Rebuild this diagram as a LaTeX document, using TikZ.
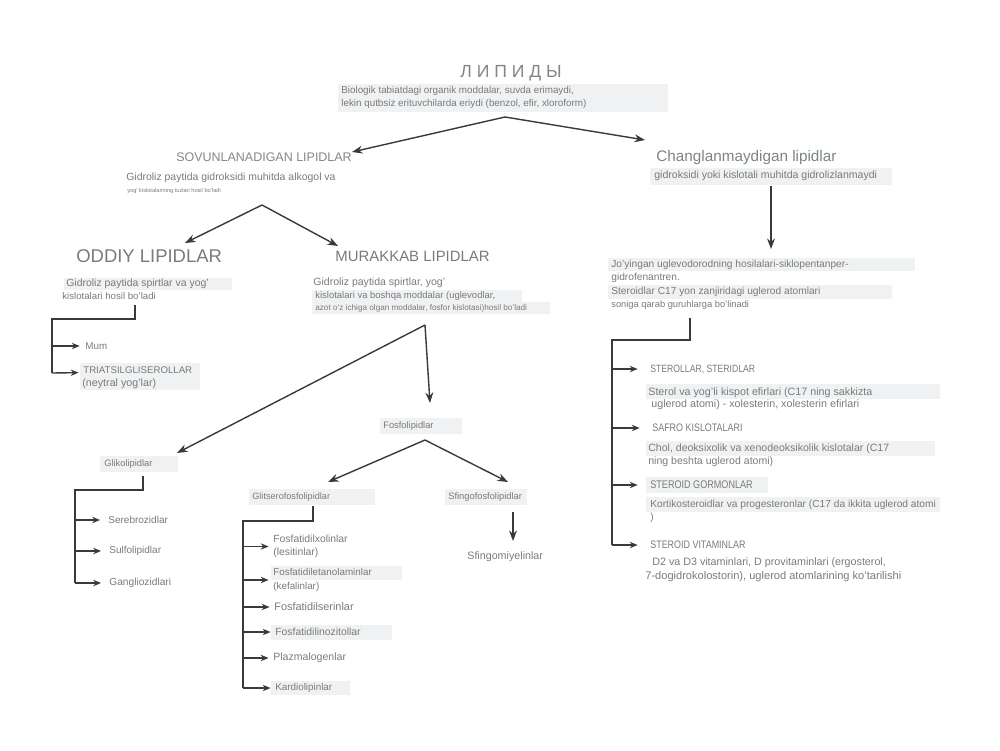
\documentclass[tikz,border=0pt]{standalone}
\usepackage{fontspec}
\setmainfont{Liberation Sans}
\newfontfamily\nar[FakeStretch=0.82]{Liberation Sans}
\usetikzlibrary{arrows.meta}
\definecolor{tg}{HTML}{7A7A7A}
\definecolor{hg}{HTML}{858585}
\definecolor{cg}{HTML}{7B8585}
\definecolor{lc}{HTML}{3A3A3A}
\definecolor{bgc}{HTML}{F0F1F2}
\newcommand\myfs[2]{\fontsize{#1pt}{#2pt}\selectfont}
\tikzset{
  txt/.style={anchor=west, inner sep=0pt, text=tg, align=left},
  ln/.style={draw=lc, line width=0.8pt},
  arr/.style={ln, -{Stealth[length=6pt,width=4.5pt]}},
  sarr/.style={ln, -{Stealth[length=4.5pt,width=3.6pt]}},
  bgbox/.style={fill=bgc},
}
\begin{document}
\begin{tikzpicture}[x=0.2mm,y=-0.2mm]
\useasboundingbox (0,0) rectangle (1000,750);
% light background strips
\fill[bgbox] (338,84) rectangle (668,112);
\fill[bgbox] (650,168) rectangle (892,185);
\fill[bgbox] (64,278) rectangle (232,290);
\fill[bgbox] (312,290) rectangle (522,302);
\fill[bgbox] (312,302) rectangle (550,314);
\fill[bgbox] (608,258) rectangle (915,271);
\fill[bgbox] (608,285) rectangle (892,299);
\fill[bgbox] (80,363) rectangle (200,390);
\fill[bgbox] (380,418) rectangle (462,434);
\fill[bgbox] (100,456) rectangle (178,472);
\fill[bgbox] (249,489) rectangle (375,505);
\fill[bgbox] (445,489) rectangle (527,505);
\fill[bgbox] (271,566) rectangle (402,580);
\fill[bgbox] (271,625) rectangle (392,640);
\fill[bgbox] (271,681) rectangle (350,695);
\fill[bgbox] (646,384) rectangle (940,399);
\fill[bgbox] (646,441) rectangle (935,456);
\fill[bgbox] (646,477) rectangle (768,493);
\fill[bgbox] (646,497) rectangle (940,512);

% ---------- top ----------
\node[txt, anchor=center, font=\myfs{10}{12}, text=hg] (lip) at (511,73) {Л И П И Д Ы};
\node[txt, font=\myfs{5.6}{7.4}] (sub) at (341,97) {Biologik tabiatdagi organik moddalar, suvda erimaydi,\\lekin qutbsiz erituvchilarda eriydi (benzol, efir, xloroform)};
\coordinate (tf) at (505,117);
\coordinate (tsov) at (352,152);
\coordinate (tch) at (645,140);
\draw[arr] (tf) -- (tsov);
\draw[arr] (tf) -- (tch);

% ---------- sovunlanadigan ----------
\node[txt, font=\myfs{7.1}{8}, text=hg] (sov) at (176,157) {SOVUNLANADIGAN LIPIDLAR};
\node[txt, font=\myfs{5.95}{7}] (sovd) at (126,178) {Gidroliz paytida gidroksidi muhitda alkogol va};
\node[txt, font=\myfs{3.2}{3.8}] (sovd2) at (127,191) {yog' kislotalarining tuzlari hosil bo'ladi};
\coordinate (sf) at (262,205);
\coordinate (todd) at (185,243);
\coordinate (tmur) at (338,246);
\draw[arr] (sf) -- (todd);
\draw[arr] (sf) -- (tmur);

% ---------- oddiy ----------
\node[txt, font=\myfs{10.5}{12}] (odd) at (76,256) {ODDIY LIPIDLAR};
\node[txt, font=\myfs{5.95}{7}] (odd1) at (66,284) {Gidroliz paytida spirtlar va yog'};
\node[txt, font=\myfs{5.5}{7}] (odd2) at (62,296) {kislotalari hosil bo'ladi};
\node[txt, font=\myfs{5.6}{7}] (mum) at (85,346) {Mum};
\node[txt, font=\myfs{5.5}{7}] (tri) at (83,370) {TRIATSILGLISEROLLAR};
\node[txt, font=\myfs{6.1}{7}] (tri2) at (82,384) {(neytral yog'lar)};
\coordinate (ob) at (135,305);
\coordinate (otr) at (52,319);
\draw[ln] (ob) |- (otr) -- (52,373);
\draw[sarr] (otr |- mum.west) -- ([xshift=-3pt]mum.west);
\draw[sarr] (52,373) -- ([xshift=-2.5pt,yshift=-1.5pt]tri.west);

% ---------- murakkab ----------
\node[txt, font=\myfs{8.5}{10}] (mur) at (335,256) {MURAKKAB LIPIDLAR};
\node[txt, font=\myfs{6}{7}] (mur1) at (313,283) {Gidroliz paytida spirtlar, yog'};
\node[txt, font=\myfs{5.4}{6}] (mur2) at (315,296) {kislotalari va boshqa moddalar (uglevodlar,};
\node[txt, font=\myfs{4.65}{6}] (mur3) at (315,308) {azot o'z ichiga olgan moddalar, fosfor kislotasi)hosil bo'ladi};
\coordinate (mk) at (425,325);
\coordinate (tfos) at (430,403);
\coordinate (tglik) at (177,453);
\draw[arr] (mk) -- (tfos);
\draw[arr] (mk) -- (tglik);

% ---------- fosfolipidlar ----------
\node[txt, font=\myfs{5.3}{7}] (fos) at (383,426) {Fosfolipidlar};
\coordinate (ff) at (425,440);
\coordinate (tgli) at (328,482);
\coordinate (tsfi) at (508,482);
\draw[arr] (ff) -- (tgli);
\draw[arr] (ff) -- (tsfi);

% ---------- glikolipidlar ----------
\node[txt, font=\myfs{5.3}{7}] (glik) at (104,464) {Glikolipidlar};
\node[txt, font=\myfs{5.7}{7}] (ser) at (108,520) {Serebrozidlar};
\node[txt, font=\myfs{5.7}{7}] (sul) at (109,551) {Sulfolipidlar};
\node[txt, font=\myfs{5.8}{7}] (gan) at (109,583) {Gangliozidlari};
\coordinate (gb) at (143,476);
\coordinate (gtr) at (75,490);
\draw[ln] (gb) |- (gtr) -- (gtr |- gan.west);
\draw[sarr] (gtr |- ser.west) -- ([xshift=-4.5pt]ser.west);
\draw[sarr] (gtr |- sul.west) -- ([xshift=-4.5pt]sul.west);
\draw[sarr] (gtr |- gan.west) -- ([xshift=-4.5pt]gan.west);

% ---------- glitserofosfolipidlar ----------
\node[txt, font=\myfs{5.2}{7}] (gli) at (252,497) {Glitserofosfolipidlar};
\node[txt, font=\myfs{5.9}{7.4}] (fx) at (273,546.5) {Fosfatidilxolinlar\\(lesitinlar)};
\node[txt, font=\myfs{5.6}{7.9}] (fe) at (273,580) {Fosfatidiletanolaminlar\\(kefalinlar)};
\node[txt, font=\myfs{6.2}{7}] (fs) at (274,607) {Fosfatidilserinlar};
\node[txt, font=\myfs{5.9}{7}] (fi) at (275,632) {Fosfatidilinozitollar};
\node[txt, font=\myfs{6}{7}] (pl) at (273,658) {Plazmalogenlar};
\node[txt, font=\myfs{5.6}{7}] (ka) at (275,688) {Kardiolipinlar};
\coordinate (lb) at (313,506);
\coordinate (ltr) at (243,521);
\draw[ln] (lb) |- (ltr) -- (ltr |- ka.west);
\foreach \n in {fx,fe,fs,fi,pl,ka}{
  \draw[sarr] (ltr |- \n.west) -- ([xshift=-2.5pt]\n.west);
}

% ---------- sfingofosfolipidlar ----------
\node[txt, font=\myfs{5.3}{7}] (sfi) at (448,497) {Sfingofosfolipidlar};
\node[txt, font=\myfs{6.1}{7}] (sfm) at (467,557) {Sfingomiyelinlar};
\coordinate (sb) at (513,512);
\coordinate (stp) at (513,541);
\draw[arr] (sb) -- (stp);

% ---------- changlanmaydigan ----------
\node[txt, font=\myfs{8.7}{10}, text=cg] (ch) at (656,158) {Changlanmaydigan lipidlar};
\node[txt, font=\myfs{6}{7}] (chd) at (654,176) {gidroksidi yoki kislotali muhitda gidrolizlanmaydi};
\coordinate (cb) at (771,186);
\coordinate (ctp) at (771,249);
\draw[arr] (cb) -- (ctp);
\node[txt, font=\myfs{5.8}{7}] (st1) at (611,265) {Jo'yingan uglevodorodning hosilalari-siklopentanper-};
\node[txt, font=\myfs{5.8}{7}] (st2) at (611,278) {gidrofenantren.};
\node[txt, font=\myfs{5.8}{7}] (st3) at (611,292) {Steroidlar C17 yon zanjiridagi uglerod atomlari};
\node[txt, font=\myfs{5.3}{7}] (st4) at (611,305) {soniga qarab guruhlarga bo'linadi};
\node[txt, font=\nar\myfs{6}{7}] (r1) at (650,369) {STEROLLAR, STERIDLAR};
\node[txt, font=\myfs{6.1}{7}] (r1a) at (648,393) {Sterol va yog'li kispot efirlari (C17 ning sakkizta};
\node[txt, font=\myfs{6.1}{7}] (r1b) at (651,405) {uglerod atomi) - xolesterin, xolesterin efirlari};
\node[txt, font=\nar\myfs{6.2}{7}] (r2) at (652,428) {SAFRO KISLOTALARI};
\node[txt, font=\myfs{6}{7}] (r2a) at (648,449) {Chol, deoksixolik va xenodeoksikolik kislotalar (C17};
\node[txt, font=\myfs{6}{7}] (r2b) at (648,462) {ning beshta uglerod atomi)};
\node[txt, font=\nar\myfs{6.3}{7}] (r3) at (650,485) {STEROID GORMONLAR};
\node[txt, font=\myfs{5.8}{7}] (r3a) at (650,505) {Kortikosteroidlar va progesteronlar (C17 da ikkita uglerod atomi};
\node[txt, font=\myfs{5.8}{7}] (r3b) at (650,518) {)};
\node[txt, font=\nar\myfs{6.2}{7}] (r4) at (650,545) {STEROID VITAMINLAR};
\node[txt, font=\myfs{6.1}{7}] (r4a) at (652,563) {D2 va D3 vitaminlari, D provitaminlari (ergosterol,};
\node[txt, font=\myfs{6.3}{7}] (r4b) at (645,577) {7-dogidrokolostorin), uglerod atomlarining ko'tarilishi};
\coordinate (rb) at (690,318);
\coordinate (rtr) at (612,340);
\draw[ln] (rb) |- (rtr) -- (rtr |- r4.west);
\foreach \n in {r1,r2,r3,r4}{
  \draw[sarr] (rtr |- \n.west) -- ([xshift=-7pt]\n.west);
}
\end{tikzpicture}
\end{document}
